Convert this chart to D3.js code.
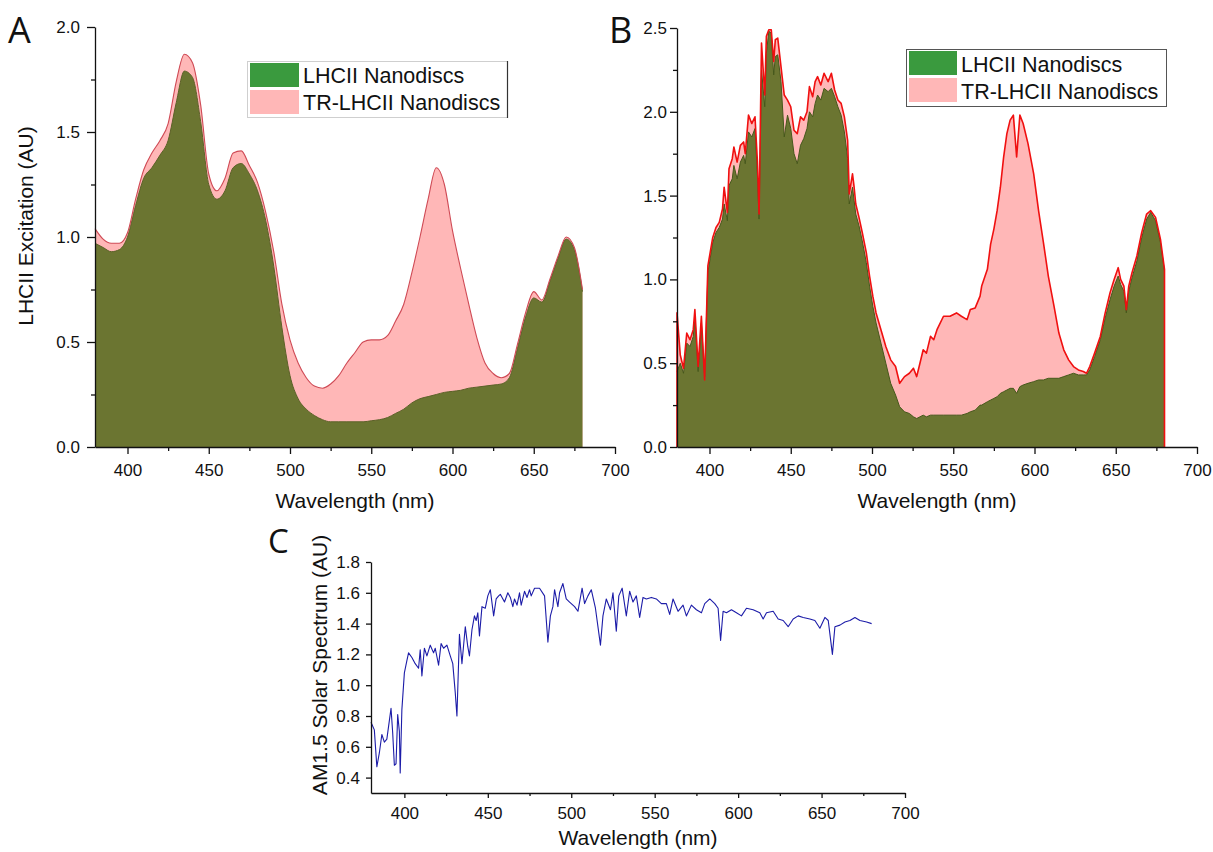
<!DOCTYPE html>
<html>
<head>
<meta charset="utf-8">
<script src="https://cdn.jsdelivr.net/npm/d3@7"></script>
<style>
  body { margin: 0; background: #fff; }
  svg { display: block; background: #fff; }
  .axis text { font-family: "Liberation Sans", Arial, sans-serif; font-size: 17px; fill: #111; }
  .axis path, .axis line { stroke: #111; stroke-width: 1.3; }
  .title { font-family: "Liberation Sans", Arial, sans-serif; font-size: 21px; fill: #111; }
  .letter { font-family: "Open Sans", sans-serif; fill: #111; }
  .legend text { font-family: "Liberation Sans", Arial, sans-serif; font-size: 21.5px; fill: #111; }
</style>
</head>
<body>
<svg id="fig" width="1213" height="852"></svg>
<script>

// ---- panel A : smooth excitation spectra (5 nm steps)
const aWave = [380, 385, 390, 395, 400, 405, 410, 415, 420, 425,
  430, 435, 440, 445, 450, 455, 460, 465, 470, 475,
  480, 485, 490, 495, 500, 505, 510, 515, 520, 525,
  530, 535, 540, 545, 550, 555, 560, 565, 570, 575,
  580, 585, 590, 595, 600, 605, 610, 615, 620, 625,
  630, 635, 640, 645, 650, 655, 660, 665, 670, 675, 680];
const aLHCII = [0.97, 0.95, 0.93, 0.94, 1.00, 1.15, 1.28, 1.33, 1.39, 1.46,
  1.64, 1.79, 1.76, 1.55, 1.25, 1.18, 1.22, 1.33, 1.35, 1.30,
  1.22, 1.08, 0.86, 0.57, 0.34, 0.23, 0.18, 0.15, 0.13, 0.12,
  0.12, 0.12, 0.12, 0.12, 0.125, 0.13, 0.14, 0.16, 0.18, 0.21,
  0.23, 0.24, 0.25, 0.26, 0.265, 0.27, 0.28, 0.285, 0.29, 0.295,
  0.30, 0.33, 0.47, 0.62, 0.71, 0.69, 0.79, 0.90, 0.99, 0.94, 0.74];
const aTR = [1.04, 0.99, 0.97, 0.97, 1.02, 1.18, 1.32, 1.40, 1.46, 1.54,
  1.74, 1.87, 1.83, 1.63, 1.30, 1.22, 1.28, 1.40, 1.41, 1.34,
  1.26, 1.12, 0.93, 0.68, 0.51, 0.40, 0.33, 0.29, 0.28, 0.30,
  0.34, 0.40, 0.45, 0.50, 0.51, 0.51, 0.53, 0.60, 0.68, 0.83,
  1.00, 1.18, 1.33, 1.25, 1.03, 0.85, 0.68, 0.52, 0.40, 0.35,
  0.33, 0.35, 0.49, 0.64, 0.74, 0.70, 0.80, 0.91, 1.00, 0.95, 0.75];

// ---- panel B : noisy spectra
const bWave = [380, 382, 384, 386, 388, 390, 391, 393, 395, 397,
  399, 402, 404, 406, 408, 409, 411, 412, 414, 415,
  417, 419, 421, 422, 424, 426, 428, 429.5, 430.5, 432,
  434, 435, 436.5, 438, 439.5, 440.5, 442, 444, 446, 448,
  450, 452, 454, 456, 458, 460, 461.5, 463.5, 465, 466.5,
  468.5, 470.5, 473, 475, 477, 479, 481, 483, 485, 486,
  488, 489, 490, 492, 494, 496.5, 498.5, 500.5, 502.5, 505.5,
  508.5, 511.5, 514.5, 517, 520, 523, 525.5, 527.5, 529.5, 531.5,
  533.5, 536, 538, 540, 544, 548, 552, 555, 558.5, 560.5,
  563.5, 566.5, 567.5, 571, 573, 575, 577, 579, 581, 583,
  585, 587, 589, 591, 593, 596, 599.5, 602.5, 605.5, 608.5,
  612, 615, 618, 621, 624, 627, 630, 632, 634, 637,
  640.5, 643.5, 646.5, 649, 651.5, 653, 655, 656.5, 658, 660,
  663, 666, 669, 671.5, 674.5, 677.5, 680];
const bTR = [0.80, 0.55, 0.47, 0.68, 0.64, 0.70, 0.82, 0.48, 0.78, 0.40,
  1.08, 1.25, 1.31, 1.34, 1.42, 1.55, 1.40, 1.66, 1.72, 1.79,
  1.70, 1.80, 1.82, 1.75, 1.98, 1.93, 1.97, 1.70, 1.39, 2.41,
  2.10, 2.45, 2.49, 2.49, 2.30, 2.43, 2.44, 2.27, 2.10, 2.07,
  2.03, 1.89, 1.87, 1.97, 1.95, 2.00, 2.15, 2.09, 2.18, 2.21,
  2.16, 2.23, 2.18, 2.23, 2.13, 2.07, 2.05, 1.97, 1.83, 1.51,
  1.63, 1.55, 1.45, 1.37, 1.28, 1.16, 1.02, 0.90, 0.80, 0.70,
  0.60, 0.52, 0.48, 0.38, 0.42, 0.44, 0.47, 0.42, 0.50, 0.58,
  0.56, 0.66, 0.64, 0.70, 0.78, 0.78, 0.80, 0.78, 0.76, 0.82,
  0.83, 0.90, 0.96, 1.06, 1.21, 1.30, 1.41, 1.55, 1.73, 1.87,
  1.95, 1.98, 1.73, 1.98, 1.93, 1.81, 1.63, 1.41, 1.22, 1.02,
  0.84, 0.68, 0.58, 0.52, 0.48, 0.46, 0.45, 0.44, 0.48, 0.56,
  0.66, 0.80, 0.92, 1.00, 1.07, 1.00, 0.96, 0.82, 0.96, 1.04,
  1.14, 1.28, 1.39, 1.41, 1.37, 1.24, 1.06];
const bLHCII = [0.45, 0.50, 0.44, 0.62, 0.60, 0.66, 0.78, 0.45, 0.74, 0.42,
  1.04, 1.22, 1.28, 1.31, 1.36, 1.45, 1.35, 1.56, 1.60, 1.68,
  1.60, 1.70, 1.74, 1.69, 1.88, 1.85, 1.90, 1.62, 1.36, 2.25,
  2.03, 2.35, 2.48, 2.47, 2.22, 2.33, 2.34, 2.18, 1.85, 1.98,
  1.90, 1.75, 1.69, 1.80, 1.84, 1.90, 2.00, 1.97, 2.05, 2.10,
  2.07, 2.14, 2.12, 2.14, 2.09, 2.03, 1.98, 1.88, 1.72, 1.45,
  1.55, 1.47, 1.39, 1.32, 1.23, 1.10, 0.96, 0.84, 0.74, 0.62,
  0.50, 0.38, 0.31, 0.24, 0.21, 0.20, 0.18, 0.17, 0.18, 0.19,
  0.18, 0.19, 0.19, 0.19, 0.19, 0.19, 0.19, 0.19, 0.20, 0.21,
  0.22, 0.25, 0.25, 0.27, 0.28, 0.29, 0.30, 0.32, 0.33, 0.34,
  0.35, 0.35, 0.32, 0.36, 0.37, 0.38, 0.39, 0.40, 0.40, 0.41,
  0.41, 0.41, 0.42, 0.43, 0.44, 0.43, 0.43, 0.43, 0.46, 0.54,
  0.64, 0.77, 0.88, 0.96, 1.02, 0.97, 0.93, 0.80, 0.93, 1.01,
  1.11, 1.25, 1.36, 1.40, 1.35, 1.22, 1.05];

// ---- panel C : AM1.5 solar spectrum
const solarWave = [380, 382, 383.5, 385, 386.5, 388, 389.5, 391, 392, 393,
  394, 395, 396, 397, 397.5, 398.5, 400, 401.5, 402.5, 404.5,
  406.5, 408.5, 409.5, 410.5, 412, 413.5, 415.5, 417.5, 418.5, 420.5,
  422, 423.5, 425.5, 427.5, 429, 430.5, 431.5, 433, 434.5, 436.5,
  438, 439, 440.5, 442, 443, 444, 445, 446.5, 448.5, 450,
  451.5, 453.5, 455, 456.5, 457.5, 460, 462, 463.5, 465, 466,
  467.5, 469, 470, 472, 473.5, 475, 476, 478, 481, 484,
  486, 487.5, 489, 490, 492, 493, 495, 497, 499, 502,
  504, 506.5, 508, 510, 512, 514.5, 517.5, 519, 521, 523.5,
  525, 527, 528.5, 530.5, 533, 535, 537, 539, 541, 543,
  545, 548, 551, 554, 557, 559, 561, 564, 567, 569,
  572, 575, 578, 580, 583, 586, 588, 589.5, 591, 593,
  596, 599, 602, 605, 609, 613, 615, 617, 621, 624,
  627, 630, 633, 636, 639, 643, 646, 649, 652, 654,
  656.5, 658, 661, 664, 667, 670, 673, 677, 680];
const solarValue = [0.76, 0.71, 0.47, 0.56, 0.68, 0.63, 0.65, 0.77, 0.85, 0.69,
  0.48, 0.49, 0.81, 0.70, 0.43, 0.84, 1.08, 1.16, 1.21, 1.18,
  1.14, 1.11, 1.23, 1.06, 1.24, 1.19, 1.26, 1.21, 1.24, 1.13,
  1.27, 1.24, 1.26, 1.19, 1.14, 0.95, 0.80, 1.33, 1.14, 1.38,
  1.25, 1.19, 1.36, 1.45, 1.42, 1.47, 1.32, 1.51, 1.50, 1.58,
  1.62, 1.45, 1.56, 1.58, 1.59, 1.54, 1.60, 1.57, 1.51, 1.56,
  1.52, 1.60, 1.52, 1.61, 1.57, 1.62, 1.58, 1.63, 1.63, 1.58,
  1.28, 1.45, 1.51, 1.62, 1.51, 1.60, 1.66, 1.56, 1.54, 1.51,
  1.48, 1.63, 1.53, 1.58, 1.62, 1.50, 1.26, 1.45, 1.56, 1.49,
  1.60, 1.35, 1.58, 1.63, 1.45, 1.61, 1.54, 1.58, 1.44, 1.57,
  1.56, 1.57, 1.56, 1.53, 1.53, 1.46, 1.56, 1.48, 1.52, 1.45,
  1.52, 1.49, 1.47, 1.53, 1.56, 1.53, 1.50, 1.29, 1.48, 1.47,
  1.49, 1.47, 1.45, 1.50, 1.49, 1.47, 1.43, 1.47, 1.48, 1.43,
  1.42, 1.38, 1.43, 1.45, 1.44, 1.43, 1.42, 1.37, 1.44, 1.42,
  1.20, 1.38, 1.39, 1.41, 1.42, 1.44, 1.42, 1.41, 1.40];

const seriesNames = ["LHCII Nanodiscs", "TR-LHCII Nanodiscs"];
const xTicks = [400, 450, 500, 550, 600, 650, 700];
const xMinor = [425, 475, 525, 575, 625, 675];
const aYTicks = [0, 0.5, 1.0, 1.5, 2.0];
const aYMinor = [0.25, 0.75, 1.25, 1.75];
const bYTicks = [0, 0.5, 1.0, 1.5, 2.0, 2.5];
const bYMinor = [0.25, 0.75, 1.25, 1.75, 2.25];
const cYTicks = [0.4, 0.6, 0.8, 1.0, 1.2, 1.4, 1.6, 1.8];

const olive = "#6b7531",
  pink = "#ffb7b7",
  legendGreen = "#3a9a3e";

const zip = (w, v) => w.map((d, i) => ({w: d, v: v[i]}));

const svg = d3.select("#fig");

function drawAxes(g, x, y, o) {
  const yBase = y.range()[0], xBase = x.range()[0];

  g.append("g").attr("class", "axis")
      .attr("transform", "translate(0," + yBase + ")")
      .call(d3.axisBottom(x).tickValues(xMinor).tickSize(o.minor).tickFormat(""))
      .call(s => s.select(".domain").remove());

  g.append("g").attr("class", "axis")
      .attr("transform", "translate(0," + yBase + ")")
      .call(d3.axisBottom(x).tickValues(xTicks).tickSize(o.xTick)
        .tickSizeOuter(0).tickPadding(o.xPad));

  if (o.yMinor) {
    g.append("g").attr("class", "axis")
        .attr("transform", "translate(" + xBase + ",0)")
        .call(d3.axisLeft(y).tickValues(o.yMinor).tickSize(o.minor).tickFormat(""))
        .call(s => s.select(".domain").remove());
  }

  g.append("g").attr("class", "axis")
      .attr("transform", "translate(" + xBase + ",0)")
      .call(d3.axisLeft(y).tickValues(o.yTicks).tickSize(o.yTick)
        .tickSizeOuter(0).tickPadding(o.yPad).tickFormat(d3.format(".1f")));
}

function areaPanel(o) {
  const x = d3.scaleLinear().domain([380, 700]).range(o.xRange);
  const y = d3.scaleLinear().domain(o.yDomain).range(o.yRange);
  const g = svg.append("g");

  const area = d3.area().curve(o.curve)
      .x(d => x(d.w)).y0(y(0)).y1(d => y(d.v));
  const line = d3.line().curve(o.curve)
      .x(d => x(d.w)).y(d => y(d.v));

  const tr = zip(o.wave, o.tr), lh = zip(o.wave, o.lh);

  g.append("path").datum(tr).attr("d", area).attr("fill", pink);
  g.append("path").datum(lh).attr("d", area).attr("fill", olive);
  g.append("path").datum(lh).attr("d", line)
      .attr("fill", "none").attr("stroke", o.greenLine).attr("stroke-width", 1);

  // red outline; in B it runs down to the baseline at both ends
  const redPts = o.closeRed
    ? [{w: tr[0].w, v: 0}].concat(tr, [{w: tr[tr.length - 1].w, v: 0}])
    : tr;
  g.append("path").datum(redPts).attr("d", line)
      .attr("fill", "none").attr("stroke", o.redLine)
      .attr("stroke-width", o.redWidth).attr("stroke-linejoin", "round");

  drawAxes(g, x, y, o);
  return g;
}

function legend(o) {
  const lg = svg.append("g").attr("class", "legend");
  lg.append("rect")
      .attr("x", o.x + 0.5).attr("y", o.y + 0.5)
      .attr("width", o.w).attr("height", o.h)
      .attr("fill", "#fff").attr("stroke", o.border).attr("stroke-width", 1);
  if (o.rightEdge) {
    lg.append("line")
        .attr("x1", o.x + o.w + 0.5).attr("x2", o.x + o.w + 0.5)
        .attr("y1", o.y).attr("y2", o.y + o.h + 1)
        .attr("stroke", o.rightEdge).attr("stroke-width", 1.2);
  }
  const rows = lg.selectAll(".row").data(seriesNames).enter().append("g")
      .attr("class", "row");
  rows.append("rect")
      .attr("x", o.x + 3).attr("y", (d, i) => o.y + 2 + i * o.step)
      .attr("width", o.sw).attr("height", o.sh)
      .attr("fill", (d, i) => i === 0 ? legendGreen : pink);
  rows.append("text")
      .attr("x", o.x + o.sw + 7).attr("y", (d, i) => o.y + o.base + i * o.step)
      .text(d => d);
}

// Panel A
areaPanel({
  wave: aWave, lh: aLHCII, tr: aTR,
  xRange: [95, 615], yRange: [447, 27], yDomain: [0, 2],
  yTicks: aYTicks, yMinor: aYMinor,
  xTick: 7, yTick: 8, minor: 4, xPad: 10, yPad: 7,
  curve: d3.curveMonotoneX,
  greenLine: "#5c6128", redLine: "#cf4a55", redWidth: 1.1, closeRed: false
});

// Panel B
areaPanel({
  wave: bWave, lh: bLHCII, tr: bTR,
  xRange: [677, 1197], yRange: [447, 28], yDomain: [0, 2.5],
  yTicks: bYTicks, yMinor: bYMinor,
  xTick: 7, yTick: 7, minor: 4, xPad: 10, yPad: 3,
  curve: d3.curveLinear,
  greenLine: "#46581b", redLine: "#f01010", redWidth: 1.6, closeRed: true
});

// Panel C
(function () {
  const x = d3.scaleLinear().domain([380, 700]).range([371, 905]);
  const y = d3.scaleLinear().domain([0.3, 1.8]).range([793, 562]);
  const g = svg.append("g");
  g.append("path").datum(zip(solarWave, solarValue))
      .attr("d", d3.line().x(d => x(d.w)).y(d => y(d.v)))
      .attr("fill", "none").attr("stroke", "#1c1ca8").attr("stroke-width", 1.1)
      .attr("stroke-linejoin", "round");
  drawAxes(g, x, y, {
    yTicks: cYTicks, yMinor: null,
    xTick: 5, yTick: 5, minor: 3, xPad: 9, yPad: 6
  });
})();

legend({x: 247, y: 61, w: 260, h: 56, step: 27, sw: 49, sh: 24, base: 22,
  border: "#cfcfcf", rightEdge: "#333"});
legend({x: 906, y: 49, w: 260, h: 57, step: 27, sw: 48, sh: 24, base: 23,
  border: "#555", rightEdge: null});

// titles
svg.append("text").attr("class", "title")
    .attr("transform", "translate(33,226) rotate(-90)")
    .attr("text-anchor", "middle").text("LHCII Excitation (AU)");
svg.append("text").attr("class", "title")
    .attr("x", 355).attr("y", 508).attr("text-anchor", "middle")
    .text("Wavelength (nm)");
svg.append("text").attr("class", "title")
    .attr("x", 937).attr("y", 508).attr("text-anchor", "middle")
    .text("Wavelength (nm)");
svg.append("text").attr("class", "title")
    .attr("transform", "translate(327,665) rotate(-90)")
    .attr("text-anchor", "middle").text("AM1.5 Solar Spectrum (AU)");
svg.append("text").attr("class", "title")
    .attr("x", 638).attr("y", 845).attr("text-anchor", "middle")
    .text("Wavelength (nm)");

// panel letters
svg.append("text").attr("class", "letter").attr("font-size", 36)
    .attr("x", 8).attr("y", 43).text("A");
svg.append("text").attr("class", "letter").attr("font-size", 36)
    .attr("x", 609).attr("y", 43).text("B");
svg.append("text").attr("class", "letter").attr("font-size", 33)
    .attr("x", 268).attr("y", 553).text("C");

</script>
</body>
</html>
